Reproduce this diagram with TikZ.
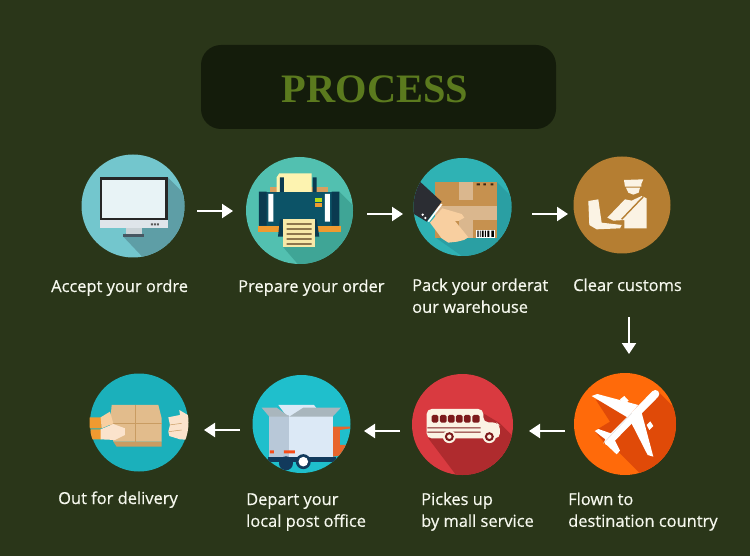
\documentclass[tikz,border=0pt]{standalone}
\usepackage{fontspec}
\setmainfont{Open Sans}
\newfontfamily\titlefont{Liberation Serif}
\newfontfamily\labfont{Open Sans}[RawFeature={embolden=0.5}]
\usetikzlibrary{arrows.meta}
\definecolor{bgc}{HTML}{2A3619}
\definecolor{boxc}{HTML}{141C0B}
\definecolor{titlec}{HTML}{5B7A1E}
\definecolor{labc}{HTML}{F6F8EE}
\definecolor{monc}{HTML}{73C6CD}
\definecolor{monsh}{HTML}{5E9EA6}
\definecolor{scrn}{HTML}{E8F3F6}
\definecolor{chin}{HTML}{DFE5EA}
\definecolor{stand}{HTML}{C9D2D6}
\definecolor{prc}{HTML}{52C0B0}
\definecolor{prsh}{HTML}{3FA596}
\definecolor{prbody}{HTML}{0C5367}
\definecolor{prdark}{HTML}{0A3A50}
\definecolor{pack}{HTML}{2FB2B4}
\definecolor{packsh}{HTML}{2A9FA3}
\definecolor{carton}{HTML}{C6914F}
\definecolor{tape}{HTML}{DAB78E}
\definecolor{skin}{HTML}{F8CFA0}
\definecolor{sleeve}{HTML}{2B2D33}
\definecolor{cust}{HTML}{B57E32}
\definecolor{cream}{HTML}{FBF3E4}
\definecolor{planec}{HTML}{FF6A0A}
\definecolor{planesh}{HTML}{E04A08}
\definecolor{busc}{HTML}{D93A40}
\definecolor{bussh}{HTML}{AF2B2E}
\definecolor{busdk}{HTML}{7C1A1C}
\definecolor{truckc}{HTML}{1FBFCC}
\definecolor{deliv}{HTML}{1BB0BB}
\definecolor{orng}{HTML}{F09A30}
\definecolor{paper}{HTML}{F7E8A8}
\definecolor{paperb}{HTML}{FDF3B0}
\definecolor{rear}{HTML}{D8A060}
\definecolor{boxtan}{HTML}{E2BC8C}
\definecolor{boxdk}{HTML}{C99C62}
\definecolor{handlt}{HTML}{FBE3CC}
\definecolor{trucklt}{HTML}{DCE9F6}
\definecolor{truckmd}{HTML}{B8C8D8}
\definecolor{flap}{HTML}{A9B6BD}
\definecolor{navy}{HTML}{123A5C}
\definecolor{cab}{HTML}{E8652C}
\tikzset{
  lab/.style={anchor=base west,inner sep=0pt,text=labc,align=left,font=\labfont\fontsize{16.45}{21.8}\selectfont},
  disc/.style={circle,inner sep=0pt,draw=none},
  flow/.style={draw=white,line width=2pt,-{Triangle[width=14pt,length=11pt]}},
  zoomA/.style={shift={(60,140)},x=0.3333pt,y=-0.3333pt},
  zoomB/.style={shift={(380,140)},x=0.3333pt,y=-0.3333pt},
  zoomC/.style={shift={(60,360)},x=0.3333pt,y=-0.3333pt},
  zoomD/.style={shift={(390,360)},x=0.3333pt,y=-0.3333pt},
}
\begin{document}
\begin{tikzpicture}[x=1pt,y=-1pt]
\useasboundingbox (0,0) rectangle (750,556);
\fill[bgc] (0,0) rectangle (750,556);
% title
\node[fill=boxc,rounded corners=20pt,minimum width=355pt,minimum height=84pt,inner sep=0pt] (title) at (378.5,87) {};
\node[inner sep=0pt,text=titlec,font=\titlefont\bfseries\fontsize{40.4}{44}\selectfont] (titletext) at (375,89) {PROCESS};

% discs
\node[disc,minimum size=103pt,fill=monc] (c1) at (133,206) {};
\node[disc,minimum size=107pt,fill=prc] (c2) at (299.5,210.5) {};
\node[disc,minimum size=98pt,fill=pack] (c3) at (462.5,207) {};
\node[disc,minimum size=97pt,fill=cust] (c4) at (622,205) {};
\node[disc,minimum size=102pt,fill=planec] (c5) at (625,424) {};
\node[disc,minimum size=101pt,fill=busc] (c6) at (462.5,424.5) {};
\node[disc,minimum size=98pt,fill=truckc] (c7) at (301.5,424) {};
\node[disc,minimum size=98pt,fill=deliv] (c8) at (139,422.5) {};

% ---------- icon 1: monitor
\begin{scope}
\clip (c1.center) circle (51.5pt);
\begin{scope}[zoomA]
\fill[monsh] (323,112) -- (520,309) -- (370,480) -- (190,290) -- cycle;
\fill[black!85] (120,112) rectangle (323,240);
\fill[scrn] (127,119) rectangle (316,233);
\fill[chin] (120,240) rectangle (323,263);
\fill[stand] (198,263) rectangle (245,284);
\fill[black!70!cyan] (190,283) rectangle (252,290);
\fill[black!65] (273,250) rectangle (279,256) (282,250) rectangle (288,256) (291,250) rectangle (297,256);
\end{scope}
\end{scope}

% ---------- icon 2: printer
\begin{scope}
\clip (c2.center) circle (53.5pt);
\begin{scope}[zoomA]
\fill[prsh] (838,155) -- (1030,347) -- (850,530) -- (670,322) -- cycle;
\fill[rear] (630,142) rectangle (805,156);
\fill[paperb] (650,112) -- (658,100) -- (755,100) -- (755,156) -- (650,156) -- cycle;
\fill[prdark] (660,112) rectangle (672,156) (758,112) rectangle (770,156);
\fill[prbody] (597,155) rectangle (838,257);
\fill[prdark] (597,155) rectangle (620,257) (815,155) rectangle (838,257);
\fill[white] (625,162) rectangle (640,245) (795,162) rectangle (810,245);
\fill[yellow!70!green] (766,173) rectangle (787,185);
\fill[orng] (766,190) rectangle (787,201);
\fill[orng] (593,257) rectangle (843,275);
\fill[prdark] (660,238) -- (770,238) -- (778,290) -- (654,290) -- cycle;
\fill[paper] (670,238) rectangle (765,322);
\fill[black!55!brown] (680,250) rectangle (755,254) (680,265) rectangle (755,269) (680,280) rectangle (755,284) (680,295) rectangle (755,299) (680,310) rectangle (755,314);
\end{scope}
\end{scope}

% ---------- icon 3: parcel
\begin{scope}
\clip (c3.center) circle (49pt);
\begin{scope}[zoomB]
\fill[packsh] (350,125) -- (520,295) -- (320,400) -- (170,295) -- cycle;
\fill[carton] (165,125) rectangle (350,295);
\fill[tape] (237,125) rectangle (278,180);
\fill[tape] (165,197) rectangle (350,240);
\fill[tape] (237,240) rectangle (278,295);
\fill[black!70!brown] (290,130) rectangle (300,136) (310,130) rectangle (318,136) (332,130) rectangle (340,136);
\fill[white] (288,270) rectangle (345,293);
\fill[black] (292,272) rectangle (296,291) (300,272) rectangle (302,291) (306,272) rectangle (311,291) (315,272) rectangle (318,291) (322,272) rectangle (328,291) (334,272) rectangle (342,291);
\fill[sleeve] (120,125) -- (185,185) -- (140,245) -- (90,215) -- (80,120) -- cycle;
\draw[white,line width=1.6pt] (185,192) -- (145,245);
\fill[white] (128,224) circle (1.3pt) (136,234) circle (1.3pt);
\fill[skin] (187,205) -- (245,222) -- (253,233) -- (235,243) -- (225,243) -- (265,292) -- (252,300) -- (232,305) -- (205,308) -- (185,295) -- (150,248) -- cycle;
\end{scope}
\end{scope}

% ---------- icon 4: customs officer
\begin{scope}[zoomB]
\fill[cream] (732,120) -- (790,118) -- (784,132) -- (784,140) -- (735,140) -- cycle;
\fill[cream] (738,143) -- (780,143) -- (776,158) -- (760,164) -- (745,158) -- cycle;
\fill[cream] (735,178) -- (755,182) -- (785,168) -- (800,175) -- (800,265) -- (733,265) -- (733,240) -- (700,242) -- (682,233) -- cycle;
\draw[cust,line width=1.4pt] (725,238) -- (790,170);
\fill[cream] (625,183) -- (655,178) -- (665,248) -- (725,255) -- (720,265) -- (650,268) -- (628,255) -- cycle;
\end{scope}

% ---------- icon 5: aeroplane
\begin{scope}
\clip (c5.center) circle (51pt);
\begin{scope}[zoomD]
\fill[planesh] (805,95) -- (1000,290) -- (820,410) -- (690,280) -- (645,250) -- (614,213) -- (660,185) -- (618,120) -- (745,135) -- cycle;
\fill[white] (605,108) -- (622,102) -- (745,135) -- (712,172) -- cycle;
\fill[white] (790,290) -- (773,285) -- (722,185) -- (755,158) -- cycle;
\fill[white] (690,118) -- (703,108) -- (716,122) -- (702,133) -- cycle;
\fill[white] (770,195) -- (781,184) -- (790,198) -- (778,210) -- cycle;
\fill[white] (614,213) -- (625,207) -- (668,222) -- (655,245) -- cycle;
\fill[white] (690,272) -- (680,283) -- (645,250) -- (670,232) -- cycle;
\draw[white,line width=8pt,line cap=round] (796,102) -- (655,245);
\draw[white!75!gray,line width=0.5pt] (640,250) -- (725,160);
\end{scope}
\end{scope}

% ---------- icon 6: bus
\begin{scope}
\clip (c6.center) circle (50.5pt);
\begin{scope}[zoomD]
\fill[bussh] (280,160) -- (330,190) -- (530,390) -- (300,480) -- (115,235) -- cycle;
\fill[cream,rounded corners=5pt] (110,147) -- (280,147) -- (280,187) -- (320,187) -- (330,197) -- (330,235) -- (110,235) -- cycle;
\fill[busdk,rounded corners=1.5pt] (125,165) rectangle (145,188) (150,165) rectangle (170,188) (174,165) rectangle (194,188) (198,165) rectangle (218,188) (222,165) rectangle (242,188) (247,165) rectangle (269,188);
\fill[busdk] (112,202) rectangle (272,205) (112,215) rectangle (272,218);
\foreach \wx in {178,298}{
\fill[cream] (\wx,230) circle (6.5pt);
\fill[busdk] (\wx,230) circle (4.5pt);
\fill[cream] (\wx,230) circle (2.2pt);
}
\end{scope}
\end{scope}

% ---------- icon 7: truck
\begin{scope}
\clip (c7.center) circle (49pt);
\begin{scope}[zoomC]
\fill[cab] (818,200) -- (873,200) -- (873,205) -- (840,210) -- (840,255) -- (873,255) -- (850,285) -- (818,290) -- cycle;
\fill[trucklt] (655,135) -- (762,135) -- (770,145) -- (700,168) -- (680,168) -- cycle;
\fill[trucklt] (688,165) rectangle (820,292);
\fill[truckmd] (628,165) rectangle (688,292);
\fill[flap] (605,143) -- (650,143) -- (688,170) -- (628,170) -- cycle;
\fill[flap] (688,170) -- (730,143) -- (843,143) -- (818,170) -- cycle;
\fill[orng!50!red] (630,271) rectangle (642,280) (672,271) rectangle (705,280);
\fill[navy] (625,292) rectangle (828,305);
\fill[navy] (678,310) circle (7pt);
\fill[navy] (730,305) circle (7.5pt);
\fill[white] (730,305) circle (4.8pt);
\end{scope}
\end{scope}

% ---------- icon 8: delivery
\begin{scope}
\clip (c8.center) circle (49.5pt);
\begin{scope}[zoomC]
\fill[boxdk] (160,245) -- (305,245) -- (305,260) -- (170,260) -- cycle;
\fill[boxtan] (155,135) -- (295,135) -- (305,175) -- (305,245) -- (160,245) -- (150,190) -- cycle;
\draw[boxdk,line width=0.7pt] (225,135) -- (225,245) (150,190) -- (305,190);
\fill[orng] (88,172) rectangle (125,205) (92,208) rectangle (125,238);
\fill[skin] (122,172) -- (150,155) -- (160,190) -- (125,205) -- cycle;
\fill[handlt] (122,208) -- (160,192) -- (195,205) -- (195,225) -- (165,240) -- (122,238) -- cycle;
\fill[handlt] (325,172) -- (360,165) -- (358,150) -- (392,170) -- (392,240) -- (360,238) -- (328,228) -- (325,215) -- (330,195) -- cycle;
\draw[boxdk,line width=0.5pt] (328,195) -- (365,190) (326,215) -- (365,210);
\end{scope}
\end{scope}

% labels
\node[lab] (l1) at (51,292) {Accept your ordre};
\node[lab] (l2) at (238,292) {Prepare your order};
\node[lab] (l3) at (412,312.8) {Pack your orderat\\our warehouse};
\node[lab] (l4) at (573,291) {Clear customs};
\node[lab] (l5) at (568,526.8) {Flown to\\destination country};
\node[lab] (l6) at (421,526.8) {Pickes up\\by mall service};
\node[lab] (l7) at (246,526.8) {Depart your\\local post office};
\node[lab] (l8) at (58,504) {Out for delivery};

% arrows
\coordinate (a1s) at (197,211); \coordinate (a1e) at (233,211);
\coordinate (a2s) at (367,214); \coordinate (a2e) at (403,214);
\coordinate (a3s) at (532,214); \coordinate (a3e) at (568,214);
\coordinate (a4s) at (629,317); \coordinate (a4e) at (629,354);
\coordinate (a5s) at (565,431); \coordinate (a5e) at (529,431);
\coordinate (a6s) at (400,431); \coordinate (a6e) at (364,431);
\coordinate (a7s) at (240,430); \coordinate (a7e) at (204,430);
\foreach \k in {1,...,7}{ \draw[flow] (a\k s) -- (a\k e); }
\end{tikzpicture}
\end{document}
